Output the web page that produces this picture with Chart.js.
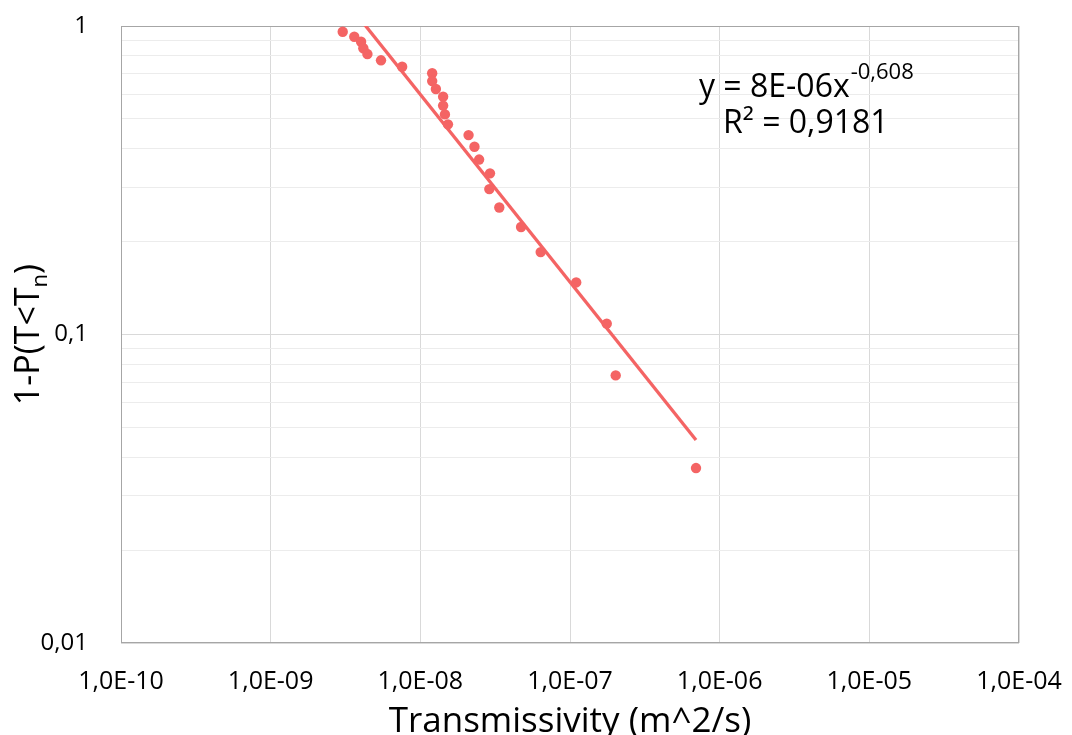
<!DOCTYPE html>
<html lang="en">
<head>
  <meta charset="UTF-8" />
  <title>Transmissivity distribution</title>
  <script src="https://cdn.jsdelivr.net/npm/chart.js"></script>
  <style>
    html, body { margin: 0; padding: 0; background: #fff; }
    #wrap { width: 1072px; height: 735px; }
  </style>
</head>
<body>
  <div id="wrap"><canvas id="chart" width="1072" height="735"></canvas></div>

  <script>
    // data
    const transmissivity = [
      3.03e-9, 3.62e-9, 4.02e-9, 4.16e-9, 4.43e-9, 5.46e-9, 7.56e-9,
      1.20e-8, 1.20e-8, 1.27e-8, 1.42e-8, 1.42e-8, 1.46e-8, 1.53e-8,
      2.10e-8, 2.30e-8, 2.47e-8, 2.92e-8, 2.89e-8, 3.37e-8, 4.71e-8,
      6.37e-8, 1.10e-7, 1.76e-7, 2.02e-7, 6.95e-7
    ];
    const exceedance = [
      0.958, 0.923, 0.889, 0.847, 0.811, 0.774, 0.738,
      0.703, 0.663, 0.625, 0.590, 0.552, 0.517, 0.480,
      0.443, 0.406, 0.369, 0.333, 0.296, 0.258, 0.223,
      0.185, 0.1475, 0.1084, 0.0737, 0.0369
    ];
    // power trendline end points (y = 8E-06x^-0,608)
    const trendX = [3.03e-9, 6.95e-7];
    const trendY = [1.24, 0.0455];

    const xTicks = [1e-10, 1e-9, 1e-8, 1e-7, 1e-6, 1e-5, 1e-4];
    const xTickLabels = ['1,0E-10', '1,0E-09', '1,0E-08', '1,0E-07', '1,0E-06', '1,0E-05', '1,0E-04'];
    const yTicks = [0.01, 0.02, 0.03, 0.04, 0.05, 0.06, 0.07, 0.08, 0.09,
                    0.1, 0.2, 0.3, 0.4, 0.5, 0.6, 0.7, 0.8, 0.9, 1];
    const yTickLabels = { 0.01: '0,01', 0.1: '0,1', 1: '1' };

    const red = '#f46464';
    const FONT = '"Open Sans", sans-serif';

    const isDecade = v => Math.abs(Math.log10(v) - Math.round(Math.log10(v))) < 1e-9;

    // frame, axis titles and the trendline label
    const extras = {
      id: 'extras',
      beforeDatasetsDraw(chart) {
        const { ctx, chartArea: a } = chart;
        ctx.save();
        ctx.strokeStyle = '#a6a6a6';
        ctx.lineWidth = 1;
        ctx.strokeRect(a.left + 0.5, a.top + 0.5, a.right - a.left - 1, a.bottom - a.top - 1);
        ctx.restore();
      },
      afterDraw(chart) {
        const { ctx, chartArea: a } = chart;
        ctx.save();
        ctx.fillStyle = '#000';

        // x title
        ctx.font = '35px ' + FONT;
        ctx.textAlign = 'center';
        ctx.textBaseline = 'alphabetic';
        ctx.fillText('Transmissivity (m^2/s)', (a.left + a.right) / 2, 732);

        // y title with subscript
        ctx.translate(39, (a.top + a.bottom) / 2);
        ctx.rotate(-Math.PI / 2);
        ctx.font = '34px ' + FONT;
        const p1 = '1-P(T<T', sub = 'n', p2 = ')';
        const w1 = ctx.measureText(p1).width;
        ctx.font = '22px ' + FONT;
        const ws = ctx.measureText(sub).width;
        ctx.font = '34px ' + FONT;
        const w2 = ctx.measureText(p2).width;
        let x = -(w1 + ws + w2) / 2;
        ctx.textAlign = 'left';
        ctx.fillText(p1, x, 0);
        x += w1;
        ctx.font = '22px ' + FONT;
        ctx.fillText(sub, x, 8);
        x += ws;
        ctx.font = '34px ' + FONT;
        ctx.fillText(p2, x, 0);
        ctx.setTransform(1, 0, 0, 1, 0, 0);

        // equation
        ctx.font = '32px ' + FONT;
        ctx.textAlign = 'left';
        const eq = 'y = 8E-06x';
        ctx.fillText(eq, 699, 97);
        const we = ctx.measureText(eq).width;
        ctx.font = '22px ' + FONT;
        ctx.fillText('-0,608', 699 + we + 1, 79);
        ctx.font = '32px ' + FONT;
        ctx.fillText('R² = 0,9181', 723, 133);
        ctx.restore();
      }
    };

    new Chart(document.getElementById('chart'), {
      type: 'scatter',
      data: {
        datasets: [
          {
            label: 'Trend',
            type: 'line',
            data: trendX.map((x, i) => ({ x, y: trendY[i] })),
            borderColor: red,
            borderWidth: 3.3,
            pointRadius: 0,
            fill: false,
            order: 2
          },
          {
            label: 'Data',
            data: transmissivity.map((x, i) => ({ x, y: exceedance[i] })),
            backgroundColor: red,
            borderColor: red,
            pointRadius: 5.2,
            borderWidth: 0,
            order: 1
          }
        ]
      },
      options: {
        responsive: false,
        animation: false,
        layout: { padding: { top: 26, right: 53, left: 0, bottom: 0 } },
        plugins: { legend: { display: false }, tooltip: { enabled: false } },
        scales: {
          x: {
            type: 'logarithmic',
            min: 1e-10,
            max: 1e-4,
            afterBuildTicks: s => { s.ticks = xTicks.map(v => ({ value: v })); },
            afterFit: s => { s.height = 92; s.paddingLeft = 0; s.paddingRight = 0; },
            ticks: {
              autoSkip: false,
              maxRotation: 0,
              padding: 24,
              color: '#000',
              font: { family: FONT, size: 25 },
              callback: (v) => xTickLabels[xTicks.indexOf(v)] ?? ''
            },
            grid: { color: '#d9d9d9', drawTicks: false, lineWidth: 1 },
            border: { display: false }
          },
          y: {
            type: 'logarithmic',
            min: 0.01,
            max: 1,
            afterBuildTicks: s => { s.ticks = yTicks.map(v => ({ value: v })); },
            afterFit: s => { s.width = 121; s.paddingTop = 0; s.paddingBottom = 0; },
            ticks: {
              autoSkip: false,
              padding: 33,
              color: '#000',
              font: { family: FONT, size: 24 },
              callback: (v) => yTickLabels[v] ?? ''
            },
            grid: {
              color: c => isDecade(c.tick.value) ? '#d9d9d9' : '#ececec',
              drawTicks: false,
              lineWidth: 1
            },
            border: { display: false }
          }
        }
      },
      plugins: [extras]
    });
  </script>
</body>
</html>
